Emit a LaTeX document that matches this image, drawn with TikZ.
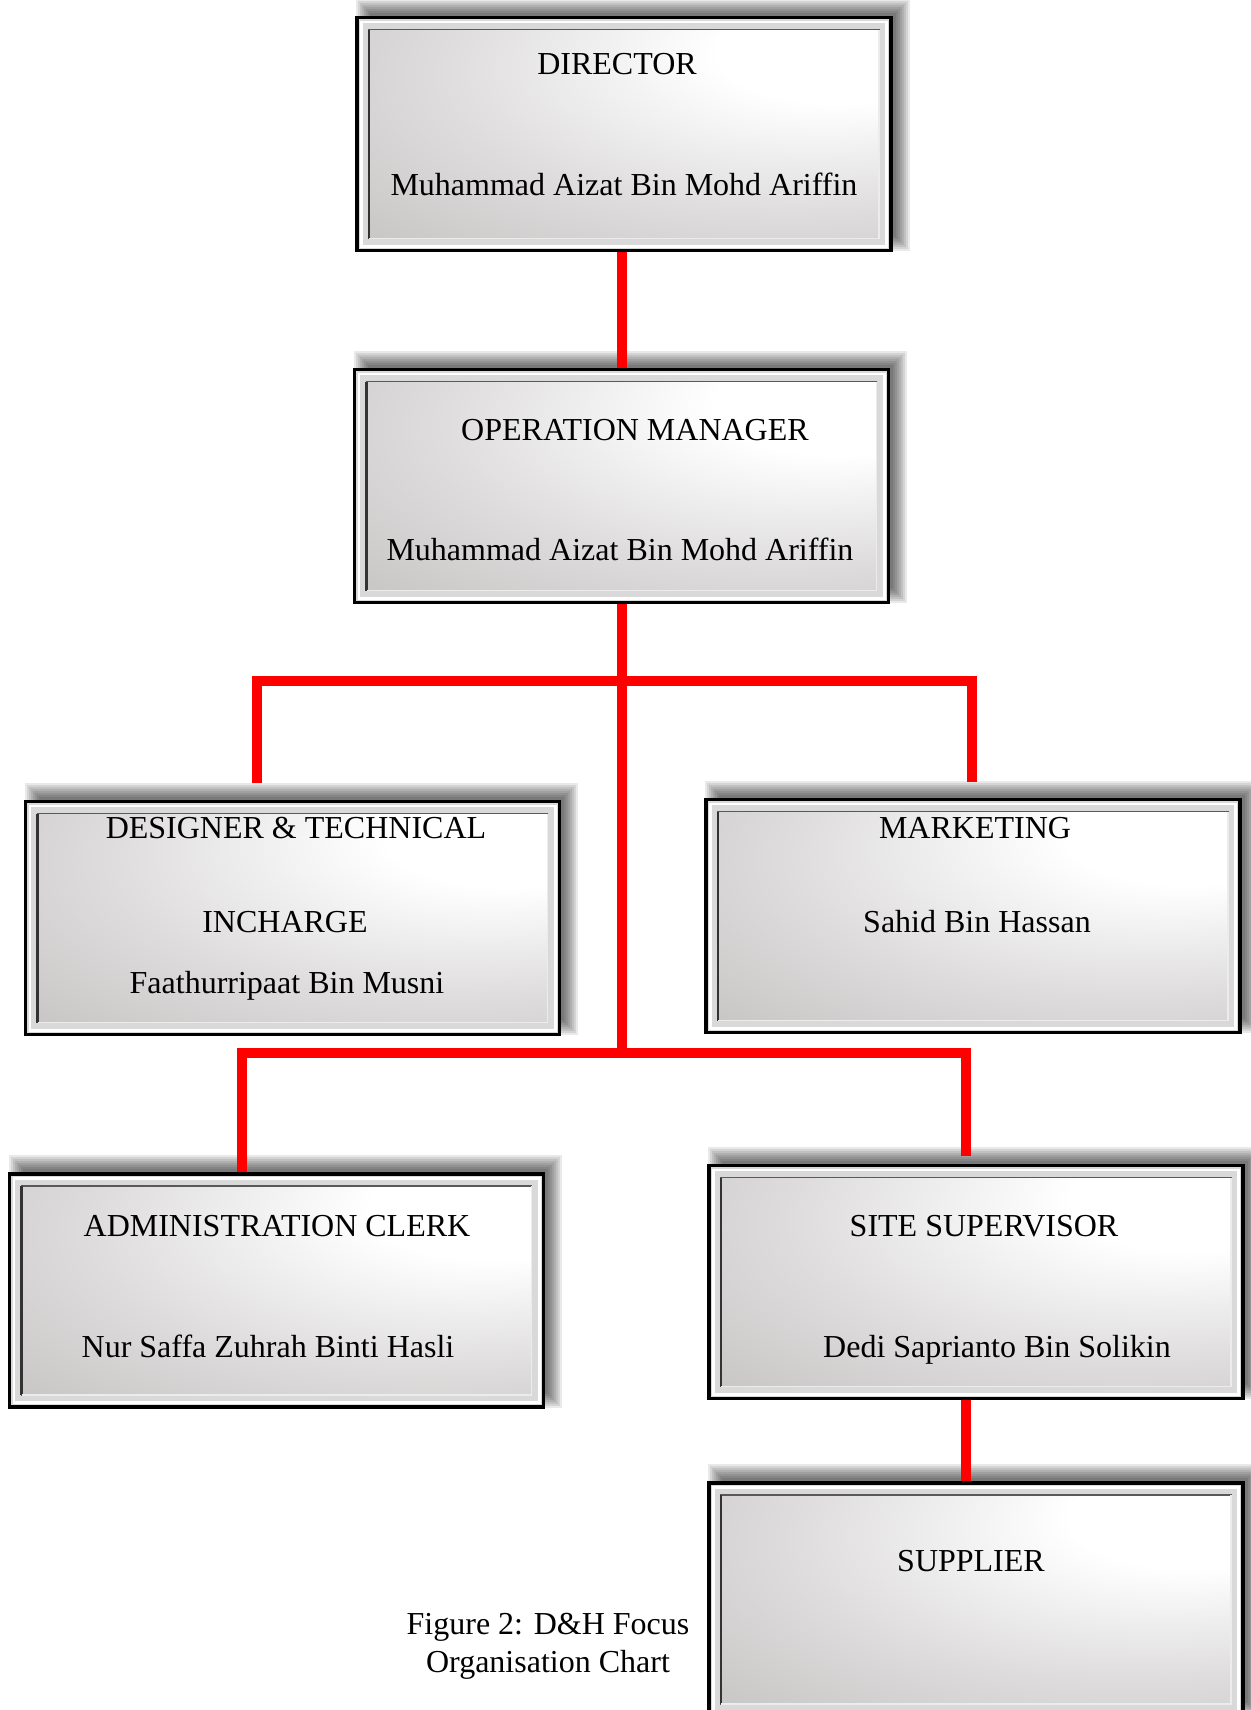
\documentclass[tikz,border=0pt]{standalone}
\usepackage{fontspec}
\setmainfont{Liberation Serif}
\usetikzlibrary{calc}
\definecolor{boxgray}{HTML}{B5B1B1}
\definecolor{shadeA}{HTML}{DEDCDC}
\definecolor{shadeB}{HTML}{C4C1C1}
\definecolor{bandgray}{HTML}{D9D9D9}
\definecolor{linered}{HTML}{FF0000}
\pgfdeclareradialshading{boxshade}{\pgfpoint{24bp}{22bp}}{%
  color(0bp)=(white); color(12bp)=(white); color(34bp)=(shadeA);
  color(55bp)=(shadeB); color(75bp)=(boxgray); color(100bp)=(boxgray)}
\pgfdeclarelayer{shadowlayer}
\pgfsetlayers{shadowlayer,main}
\tikzset{
  orgbox/.style={rectangle, inner sep=0pt, minimum width=267pt, minimum height=116.5pt,
    draw=black, line width=1.6pt, fill=bandgray,
    path picture={
      \draw[white, line width=1.4pt]
        ([shift={(2.2pt,-2.2pt)}]path picture bounding box.north west) rectangle
        ([shift={(-2.2pt,2.2pt)}]path picture bounding box.south east);
      \shade[shading=boxshade]
        ([shift={(6pt,-6pt)}]path picture bounding box.north west) rectangle
        ([shift={(-6pt,6pt)}]path picture bounding box.south east);
      \draw[black!65, line width=0.9pt]
        ([shift={(6pt,-6pt)}]path picture bounding box.north west) rectangle
        ([shift={(-6pt,6pt)}]path picture bounding box.south east);
      \draw[black!80, line width=1.2pt]
        ([shift={(6pt,6pt)}]path picture bounding box.south west) --
        ([shift={(6pt,-6pt)}]path picture bounding box.north west);
      \draw[white!85!gray, line width=0.9pt]
        ([shift={(6pt,6pt)}]path picture bounding box.south west) --
        ([shift={(-6pt,6pt)}]path picture bounding box.south east) --
        ([shift={(-6pt,-6pt)}]path picture bounding box.north east);
    }},
  shadowpiece/.style={fill=black, fill opacity=0.085},
  txt/.style={inner sep=0pt, anchor=base, font=\fontsize{16pt}{19pt}\selectfont},
  redline/.style={draw=linered, line width=5pt, line join=miter},
}
\newcommand\boxshadow[1]{%
  \foreach \e in {0,1,...,7}{%
    \fill[shadowpiece] ([shift={({7.5pt-\e*1pt},{7.5pt-\e*1pt})}]#1.south west) rectangle
                       ([shift={({1.5pt+\e*1pt},{1.5pt+\e*1pt})}]#1.north east);
  }}
\begin{document}
\begin{tikzpicture}[x=0.5pt,y=-0.5pt]
\useasboundingbox (0,0) rectangle (1250,1710);

% junction coordinates
\coordinate (jTop) at (622,681);
\coordinate (jTL) at (257,681);
\coordinate (jTR) at (972,681);
\coordinate (jBot) at (622,1053);
\coordinate (jBL) at (242,1053);
\coordinate (jBR) at (966,1053);

% boxes
\node[orgbox] (dir) at (624,134) {};
\node[orgbox] (om) at (621.5,486) {};
\node[orgbox] (des) at (292.5,918) {};
\node[orgbox] (mkt) at (973,916) {};
\node[orgbox] (adm) at (276.5,1290.5) {};
\node[orgbox] (site) at (976,1282) {};
\node[orgbox] (sup) at (976,1599.5) {};

% shadows (behind everything)
\begin{pgfonlayer}{shadowlayer}
  \fill[white] (0,0) rectangle (1250,1710);
  \boxshadow{dir}
  \boxshadow{om}
  \boxshadow{des}
  \boxshadow{mkt}
  \boxshadow{adm}
  \boxshadow{site}
  \boxshadow{sup}
\end{pgfonlayer}

% connectors
\draw[redline] (dir.south -| jTop) -- (om.north -| jTop);
\draw[redline] (om.south -| jTop) -- (jBot);
\draw[redline] ([yshift=8.5pt]des.north -| jTL) -- (jTL) -- (jTR) -- ([yshift=8pt]mkt.north -| jTR);
\draw[redline] (adm.north -| jBL) -- (jBL) -- (jBR) -- ([yshift=4pt]site.north -| jBR);
\draw[redline] (site.south -| jBR) -- (sup.north -| jBR);

% texts
\node[txt] (dirT) at (617,74) {DIRECTOR};
\node[txt] (dirN) at (624,195) {Muhammad Aizat Bin Mohd Ariffin};
\node[txt] (omT) at (635,440) {OPERATION MANAGER};
\node[txt] (omN) at (620,560) {Muhammad Aizat Bin Mohd Ariffin};
\node[txt] (desT) at (296,838) {DESIGNER \& TECHNICAL};
\node[txt] (desT2) at (285,932) {INCHARGE};
\node[txt] (desN) at (287,993) {Faathurripaat Bin Musni};
\node[txt] (mktT) at (975,838) {MARKETING};
\node[txt] (mktN) at (977,932) {Sahid Bin Hassan};
\node[txt] (admT) at (277,1236) {ADMINISTRATION CLERK};
\node[txt] (admN) at (268,1357) {Nur Saffa Zuhrah Binti Hasli};
\node[txt] (siteT) at (984,1236) {SITE SUPERVISOR};
\node[txt] (siteN) at (997,1357) {Dedi Saprianto Bin Solikin};
\node[txt] (supT) at (971,1571) {SUPPLIER};
\node[txt] (cap1) at (548,1634) {Figure 2: D\&H Focus};
\node[txt] (cap2) at (548,1672) {Organisation Chart};
\end{tikzpicture}
\end{document}
